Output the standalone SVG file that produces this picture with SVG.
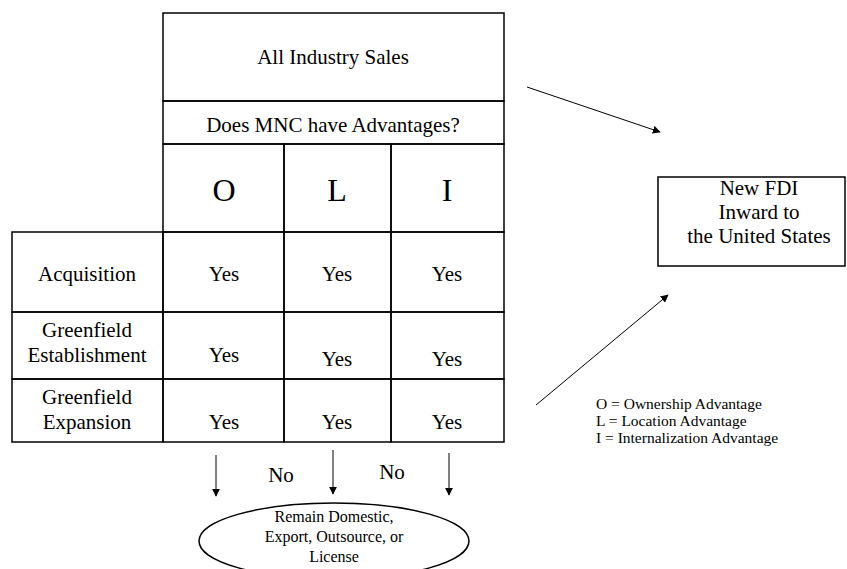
<svg xmlns="http://www.w3.org/2000/svg" width="847" height="569" viewBox="0 0 847 569" font-family="'Liberation Serif','Times New Roman',serif">
<defs>
<style>
text{font-family:"Liberation Serif","Times New Roman",serif;fill:#000;text-anchor:middle}
.t16{font-size:21px}
.t26{font-size:32px}
.t12{font-size:16px}
.cell{fill:none;stroke:#000;stroke-width:1.5}
.con{stroke:#000;stroke-width:1;fill:none}
.lg{text-anchor:start;font-size:15.5px}
</style>
<marker id="ah" viewBox="0 0 10 10" refX="9" refY="5" markerWidth="8" markerHeight="8" markerUnits="userSpaceOnUse" orient="auto">
<path d="M0,0 L10,5 L0,10 Z" fill="#000"/>
</marker>
</defs>
<rect width="847" height="569" fill="#fff"/>
<g id="table">
<rect class="cell" x="163" y="13" width="341" height="88"/>
<rect class="cell" x="163" y="101" width="341" height="43"/>
<rect class="cell" x="163" y="144" width="121" height="88"/>
<rect class="cell" x="284" y="144" width="107" height="88"/>
<rect class="cell" x="391" y="144" width="113" height="88"/>
<rect class="cell" x="12" y="232" width="151" height="80"/>
<rect class="cell" x="163" y="232" width="121" height="80"/>
<rect class="cell" x="284" y="232" width="107" height="80"/>
<rect class="cell" x="391" y="232" width="113" height="80"/>
<rect class="cell" x="12" y="312" width="151" height="67"/>
<rect class="cell" x="163" y="312" width="121" height="67"/>
<rect class="cell" x="284" y="312" width="107" height="67"/>
<rect class="cell" x="391" y="312" width="113" height="67"/>
<rect class="cell" x="12" y="379" width="151" height="63"/>
<rect class="cell" x="163" y="379" width="121" height="63"/>
<rect class="cell" x="284" y="379" width="107" height="63"/>
<rect class="cell" x="391" y="379" width="113" height="63"/>
<text class="t16" x="333" y="64">All Industry Sales</text>
<text class="t16" x="333" y="132">Does MNC have Advantages?</text>
<text class="t26" x="224" y="201">O</text>
<text class="t26" x="337" y="201">L</text>
<text class="t26" x="447" y="201">I</text>
<text class="t16" x="87" y="281">Acquisition</text>
<text class="t16" x="224" y="281">Yes</text>
<text class="t16" x="337" y="281">Yes</text>
<text class="t16" x="447" y="281">Yes</text>
<text class="t16" x="87" y="337">Greenfield</text>
<text class="t16" x="87" y="362">Establishment</text>
<text class="t16" x="224" y="362">Yes</text>
<text class="t16" x="337" y="366">Yes</text>
<text class="t16" x="447" y="366">Yes</text>
<text class="t16" x="87" y="404">Greenfield</text>
<text class="t16" x="87" y="429">Expansion</text>
<text class="t16" x="224" y="429">Yes</text>
<text class="t16" x="337" y="429">Yes</text>
<text class="t16" x="447" y="429">Yes</text>
</g>
<g id="fdi">
<rect class="cell" x="658" y="177" width="187" height="89"/>
<text class="t16" x="759" y="195">New FDI</text>
<text class="t16" x="759" y="219">Inward to</text>
<text class="t16" x="759" y="243">the United States</text>
</g>
<g id="outcome">
<ellipse class="cell" cx="334" cy="541" rx="135" ry="38"/>
<text class="t12" x="334" y="522">Remain Domestic,</text>
<text class="t12" x="334" y="542">Export, Outsource, or</text>
<text class="t12" x="334" y="562">License</text>
</g>
<g id="legend">
<text class="lg" x="596" y="409">O = Ownership Advantage</text>
<text class="lg" x="596" y="426">L = Location Advantage</text>
<text class="lg" x="596" y="443">I = Internalization Advantage</text>
</g>
<g id="connectors">
<line class="con" x1="527" y1="87" x2="660" y2="132" marker-end="url(#ah)"/>
<line class="con" x1="536" y1="405" x2="668" y2="295" marker-end="url(#ah)"/>
<line class="con" x1="216" y1="455" x2="216" y2="496" marker-end="url(#ah)"/>
<line class="con" x1="333" y1="450" x2="333" y2="494" marker-end="url(#ah)"/>
<line class="con" x1="449" y1="453" x2="449" y2="495" marker-end="url(#ah)"/>
<text class="t16" x="281" y="482">No</text>
<text class="t16" x="392" y="479">No</text>
</g>
</svg>
